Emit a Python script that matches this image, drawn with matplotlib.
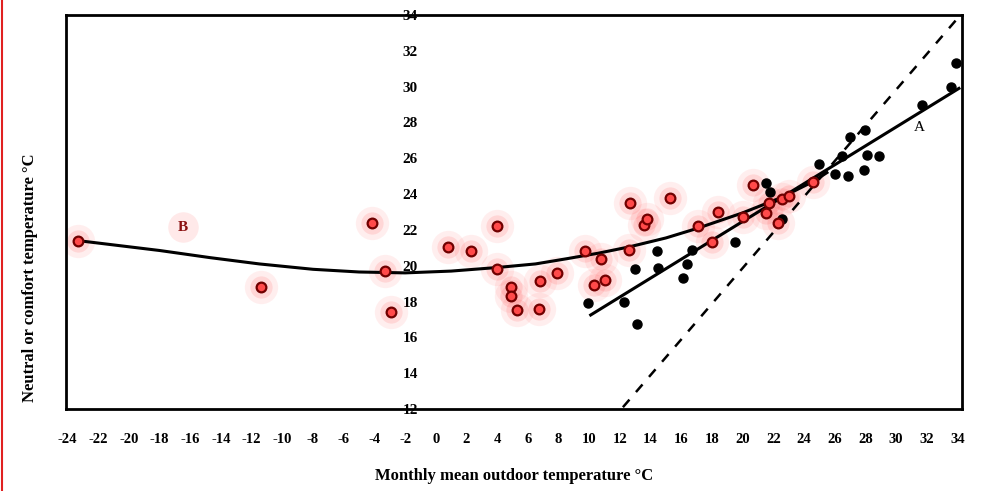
import numpy as np
import matplotlib
matplotlib.use("Agg")
import matplotlib.pyplot as plt
from matplotlib.lines import Line2D

plt.rcParams['font.family'] = ['Liberation Serif', 'DejaVu Serif']

# open (red) survey points
red_x = [-23.3, -11.4, -4.15, -3.3, -2.9, 0.8, 2.3, 4.0, 4.0, 4.9, 4.9, 5.3, 6.7, 6.8, 7.9,
         9.7, 10.8, 10.3, 11.0, 12.65, 12.6, 13.6, 13.8, 15.3, 17.1, 18.0, 18.4, 20.05,
         20.7, 21.5, 21.7, 22.3, 22.6, 23.0, 24.6]
red_y = [21.4, 18.8, 22.4, 19.7, 17.4, 21.05, 20.8, 22.2, 19.8, 18.8, 18.3, 17.5, 17.6, 19.15, 19.6,
         20.8, 20.4, 18.9, 19.2, 23.5, 20.9, 22.3, 22.6, 23.8, 22.2, 21.3, 23.0, 22.7,
         24.5, 22.95, 23.5, 22.4, 23.7, 23.9, 24.7]

# filled (black) survey points
black_x = [9.9, 12.3, 13.1, 13.0, 14.4, 14.5, 16.1, 16.4, 16.7, 19.5, 21.5, 21.8, 22.6,
           25.0, 26.0, 26.5, 27.0, 26.9, 28.0, 28.1, 28.9, 27.9, 31.7, 33.6, 33.9]
black_y = [17.9, 18.0, 16.75, 19.8, 20.8, 19.9, 19.3, 20.1, 20.9, 21.3, 24.6, 24.1, 22.6,
           25.7, 25.1, 26.1, 27.2, 25.0, 27.6, 26.2, 26.1, 25.35, 29.0, 30.0, 31.3]

# curve B
b_x = [-23.3, -18.0, -14.7, -11.5, -8.0, -5.0, -2.0, 1.0, 4.0, 6.5, 8.6, 10.6, 12.6,
       15.0, 17.1, 20.0, 22.5, 24.6, 25.5]
b_y = [21.4, 20.85, 20.45, 20.1, 19.8, 19.65, 19.6, 19.7, 19.9, 20.1, 20.4, 20.7, 21.05,
       21.55, 22.1, 22.95, 23.8, 24.7, 25.2]

# line A
a_x = [10.1, 34.1]
a_y = [17.25, 29.9]

# dashed line
d_x = [12.2, 34.0]
d_y = [12.1, 33.8]

x_ticks = list(range(-24, 35, 2))
y_ticks = list(range(12, 35, 2))

xmin, xmax = -24.1, 34.3
ymin, ymax = 12, 34

fig = plt.figure(figsize=(9.81, 4.91), dpi=100)
ax = fig.add_axes([0.0673, 0.167, 0.9133, 0.8025])

# lines
ax.plot(b_x, b_y, color='black', lw=2.2, zorder=3, solid_joinstyle='round')
ax.plot(a_x, a_y, color='black', lw=2.2, zorder=3)
ax.plot(d_x, d_y, color='black', lw=1.8, ls=(0, (4, 4)), zorder=3)

# black dots
ax.plot(black_x, black_y, 'o', color='black', ms=6.5, zorder=4)

# red open circles with glow
ax.plot(red_x, red_y, 'o', color='#ff3030', alpha=0.08, ms=24, mew=0, zorder=2)
ax.plot(red_x, red_y, 'o', color='#ff3030', alpha=0.12, ms=16, mew=0, zorder=2)
ax.plot(red_x, red_y, 'o', mfc='#ff4a4a', mec='#700000', ms=7, mew=1.6, zorder=5)

# curve labels
ax.plot([-16.5], [22.15], 'o', color='#ff3030', alpha=0.1, ms=22, mew=0, zorder=2)
ax.text(-16.5, 22.15, 'B', color='#8b1010', fontsize=11, fontweight='bold',
        ha='center', va='center', zorder=6)
ax.text(31.5, 27.7, 'A', color='black', fontsize=11, ha='center', va='center', zorder=6)

ax.set_xlim(xmin, xmax)
ax.set_ylim(ymin, ymax)
ax.set_xticks(x_ticks)
ax.set_xticklabels([str(v) for v in x_ticks], fontsize=10.5, fontweight='bold')
ax.tick_params(axis='x', length=0, pad=17)
ax.set_yticks([])

for s in ax.spines.values():
    s.set_linewidth(2)

# y tick labels sit inside the box, just left of x = 0
sec = ax.secondary_yaxis((0 - xmin) / (xmax - xmin))
sec.set_yticks(y_ticks)
sec.set_yticklabels([str(v) for v in y_ticks], fontsize=11, fontweight='bold')
sec.tick_params(axis='y', length=0, pad=13)
sec.spines['left'].set_visible(False)

ax.set_xlabel('Monthly mean outdoor temperature \u00b0C', fontsize=12, fontweight='bold', labelpad=16)
fig.text(0.031, 0.434, 'Neutral or comfort temperature \u00b0C', rotation=90,
         fontsize=12, fontweight='bold', ha='center', va='center')

# red ruler line at the left edge of the screenshot
fig.add_artist(Line2D([0.002, 0.002], [0, 1], color='#e02020', lw=1.5))

fig.savefig('out.png', dpi=100)
